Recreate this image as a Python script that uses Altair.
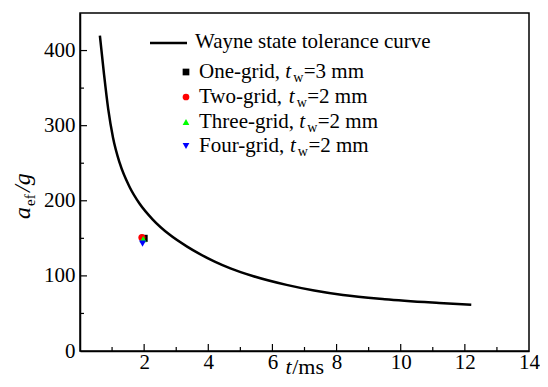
import altair as alt
import pandas as pd

# ---------------- data ----------------
curve_t = [0.62, 0.75, 0.88, 1.03, 1.24, 1.55, 1.86, 2.27, 2.79, 3.34, 3.70, 4.20, 4.69, 5.41, 6.44, 7.30, 8.20, 9.50, 11.20, 12.20]
curve_a = [420, 368, 322, 284, 250, 218, 196, 175, 155, 139, 130, 119, 110, 99.5, 88, 80.5, 74.5, 69, 64, 61.5]

series_names = ["One-grid", "Two-grid", "Three-grid", "Four-grid"]
series_tw = ["3", "2", "2", "2"]
series_t = [2.00, 1.93, 1.97, 1.95]
series_a = [150, 151, 149, 143]
series_shape = ["square", "circle", "triangle-up", "triangle-down"]
series_color = ["#000000", "#ff0000", "#00ff00", "#0000ff"]

curve_label = "Wayne state tolerance curve"

x_labels = [2, 4, 6, 8, 10, 12, 14]
x_minor = [1, 3, 5, 7, 9, 11, 13]
y_labels = [0, 100, 200, 300, 400]
y_minor = [50, 150, 250, 350]

# ---------------- layout ----------------
W, H = 449, 338
PAD_L, PAD_T = 72, 5
OX = 82 - (8 + PAD_L)   # shift of legend text relative to the reference page layout
XDOM, YDOM = [0, 14], [0, 450]
FONT = "'Liberation Serif', 'Times New Roman', Times, serif"

REG = {' ': 250, ',': 250, '-': 333, '=': 564, 'm': 778, 'O': 722, 'T': 611, 'F': 556,
       'W': 944, 'a': 444, 'c': 444, 'd': 500, 'e': 444, 'f': 333, 'g': 500, 'h': 500,
       'i': 278, 'l': 278, 'n': 500, 'o': 500, 'r': 333, 's': 389, 't': 278, 'u': 500,
       'v': 500, 'w': 722, 'y': 500, '/': 278}
for d in "0123456789":
    REG[d] = 500


def tw(s, size):
    return sum(REG.get(c, 500) for c in s) * size / 1000.0


xs = alt.Scale(domain=XDOM, nice=False, zero=False)
ys = alt.Scale(domain=YDOM, nice=False, zero=False)

x_axis = alt.Axis(values=x_labels, ticks=False, grid=False, title=None, labelFont=FONT,
                  labelFontSize=21, labelColor="black", labelPadding=0, domainColor="black",
                  domainWidth=1.5, labelFlush=False, labelOverlap=False)
y_axis = alt.Axis(values=y_labels, ticks=False, grid=False, title=None, labelFont=FONT,
                  labelFontSize=21, labelColor="black", labelPadding=5, domainColor="black",
                  domainWidth=1.5, labelFlush=False, labelOverlap=False)

curve_df = pd.DataFrame({"t": curve_t, "a": curve_a})
curve = alt.Chart(curve_df).mark_line(color="black", strokeWidth=2.5, interpolate="monotone").encode(
    x=alt.X("t:Q", scale=xs, axis=x_axis),
    y=alt.Y("a:Q", scale=ys, axis=y_axis),
)

pts_df = pd.DataFrame({"t": series_t, "a": series_a, "shape": series_shape, "color": series_color,
                       "o": [0, 1, 2, 3]})
pts = alt.Chart(pts_df).mark_point(filled=True, size=50, opacity=1).encode(
    x=alt.X("t:Q", scale=xs, axis=None),
    y=alt.Y("a:Q", scale=ys, axis=None),
    shape=alt.Shape("shape:N", scale=None),
    color=alt.Color("color:N", scale=None),
    order=alt.Order("o:Q"),
)


def xticks(vals, length):
    return alt.Chart(pd.DataFrame({"v": vals})).mark_rule(color="black", strokeWidth=1.2).encode(
        x=alt.X("v:Q", scale=xs, axis=None), y=alt.value(H), y2=alt.value(H - length))


def yticks(vals, length):
    return alt.Chart(pd.DataFrame({"v": vals})).mark_rule(color="black", strokeWidth=1.2).encode(
        y=alt.Y("v:Q", scale=ys, axis=None), x=alt.value(0), x2=alt.value(length))


ticks = [xticks(x_labels[:-1], 7), xticks(x_minor, 4), yticks(y_labels[1:], 7), yticks(y_minor, 4)]

# ---------------- legend (pixel layout relative to plot origin) ----------------
LFS, SFS = 21, 14
row_base = [65, 90, 115, 139]
txt_norm, txt_ital, txt_sub = [], [], []
txt_norm.append({"px": 113 + OX, "py": 35, "txt": curve_label, "fs": LFS})
for name, w, yb in zip(series_names, series_tw, row_base):
    x0 = 117 + OX
    pre = name + ", "
    tx = x0 + tw(pre, LFS)
    sx = tx + 0.278 * LFS + 2
    fx = sx + 0.722 * SFS + 0.5
    txt_norm.append({"px": x0, "py": yb, "txt": pre, "fs": LFS})
    txt_ital.append({"px": tx, "py": yb, "txt": "t", "fs": LFS})
    txt_sub.append({"px": sx, "py": yb + 4, "txt": "w", "fs": SFS})
    txt_norm.append({"px": fx, "py": yb, "txt": "=" + w + " mm", "fs": LFS})

# x axis title "t/ms"
XT_FS = 22
XT_BASE = 374 - 13
xt_x = W / 2 - (0.278 * XT_FS + tw("/ms", XT_FS)) / 2
txt_ital.append({"px": xt_x, "py": XT_BASE, "txt": "t", "fs": XT_FS})
txt_norm.append({"px": xt_x + 0.278 * XT_FS + 0.5, "py": XT_BASE, "txt": "/ms", "fs": XT_FS})


def text_layer(rows, style):
    return alt.Chart(pd.DataFrame(rows)).mark_text(
        align="left", baseline="alphabetic", font=FONT, fontStyle=style, color="black").encode(
        x=alt.X("px:Q", scale=None, axis=None), y=alt.Y("py:Q", scale=None, axis=None),
        text="txt:N", size=alt.Size("fs:Q", scale=None))


# y axis title a_ef/g, rotated
YT_X, YT_Y = -52 + OX, 206
rot_ital = [{"px": YT_X, "py": YT_Y, "txt": "a", "fs": 24},
            {"px": YT_X, "py": YT_Y - 12 - 12 - 3, "txt": "/g", "fs": 24}]
rot_sub = [{"px": YT_X + 5, "py": YT_Y - 12 - 1, "txt": "ef", "fs": 15}]


def rot_layer(rows, style):
    return alt.Chart(pd.DataFrame(rows)).mark_text(
        align="left", baseline="alphabetic", font=FONT, fontStyle=style, color="black", angle=270).encode(
        x=alt.X("px:Q", scale=None, axis=None), y=alt.Y("py:Q", scale=None, axis=None),
        text="txt:N", size=alt.Size("fs:Q", scale=None))


leg_line = alt.Chart(pd.DataFrame({"d": [0]})).mark_rule(color="black", strokeWidth=2.5).encode(
    x=alt.value(68 + OX), x2=alt.value(105 + OX), y=alt.value(30))

leg_pts_df = pd.DataFrame({"px": [104 + OX] * 4, "py": [r - 6 for r in row_base],
                           "shape": series_shape, "color": series_color})
leg_pts = alt.Chart(leg_pts_df).mark_point(filled=True, size=45, opacity=1).encode(
    x=alt.X("px:Q", scale=None, axis=None), y=alt.Y("py:Q", scale=None, axis=None),
    shape=alt.Shape("shape:N", scale=None), color=alt.Color("color:N", scale=None))

chart = alt.layer(
    curve, *ticks, pts, leg_line, leg_pts,
    text_layer(txt_norm, "normal"), text_layer(txt_ital, "italic"), text_layer(txt_sub, "normal"),
    rot_layer(rot_ital, "italic"), rot_layer(rot_sub, "normal"),
).resolve_scale(x="independent", y="independent").properties(
    width=W, height=H, autosize="none",
    padding={"left": PAD_L, "top": PAD_T, "right": 532 - PAD_L - W, "bottom": 371 - PAD_T - H},
    background="white",
).configure_view(stroke="black", strokeWidth=1.5)

chart.save("out.html", embed_options={"renderer": "svg", "actions": False})
